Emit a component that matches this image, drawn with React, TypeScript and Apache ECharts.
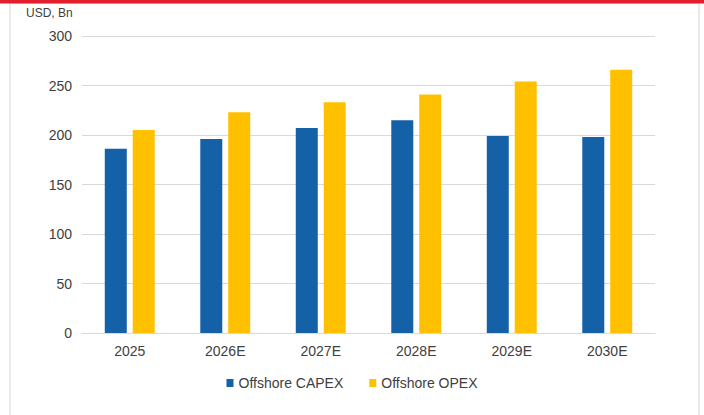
import React, { useEffect, useRef } from "react";
import * as echarts from "echarts";

const categories = ["2025", "2026E", "2027E", "2028E", "2029E", "2030E"];
const capex = [186, 196, 207, 215, 199, 198];
const opex = [205, 223, 233, 241, 254, 266];
const yTicks = { min: 0, max: 300, interval: 50 };

const FONT = "'Liberation Sans', Arial, sans-serif";

export default function App() {
  const ref = useRef<HTMLDivElement>(null);
  useEffect(() => {
    if (!ref.current) return;
    const chart = echarts.init(ref.current, null, { renderer: "svg" });
    chart.setOption({
      animation: false,
      backgroundColor: "#ffffff",
      graphic: [
        { type: "rect", shape: { x: 10, y: 3, width: 689, height: 420 }, style: { fill: "none", stroke: "#e4e4e4", lineWidth: 1.5 }, z: 0 },
        { type: "rect", shape: { x: 0, y: 0, width: 704, height: 3.5 }, style: { fill: "#e0202c" }, z: 10 },
        { type: "text", left: 26, top: 7, style: { text: "USD, Bn", fontSize: 12, fontFamily: FONT, fill: "#404040" } },
      ],
      grid: { left: 82, right: 49, top: 36, bottom: 82 },
      legend: {
        top: 371,
        left: "center",
        itemWidth: 7,
        itemHeight: 8,
        itemGap: 26,
        icon: "rect",
        textStyle: { fontSize: 14, fontFamily: FONT, color: "#404040" },
        data: ["Offshore CAPEX", "Offshore OPEX"],
      },
      xAxis: {
        type: "category",
        data: categories,
        axisLine: { lineStyle: { color: "#d9d9d9" } },
        axisTick: { show: false },
        axisLabel: { fontSize: 14, fontFamily: FONT, color: "#404040", margin: 11 },
      },
      yAxis: {
        type: "value",
        min: yTicks.min,
        max: yTicks.max,
        interval: yTicks.interval,
        axisLine: { show: false },
        axisTick: { show: false },
        splitLine: { lineStyle: { color: "#d9d9d9" } },
        axisLabel: { fontSize: 14, fontFamily: FONT, color: "#404040", margin: 10 },
      },
      series: [
        { name: "Offshore CAPEX", type: "bar", data: capex, barWidth: 22, barGap: "27%", itemStyle: { color: "#1561a8" } },
        { name: "Offshore OPEX", type: "bar", data: opex, barWidth: 22, itemStyle: { color: "#ffc000" } },
      ],
    });
    return () => chart.dispose();
  }, []);
  return <div ref={ref} style={{ position: "absolute", left: 0, top: 0, width: 704, height: 415 }} />;
}
